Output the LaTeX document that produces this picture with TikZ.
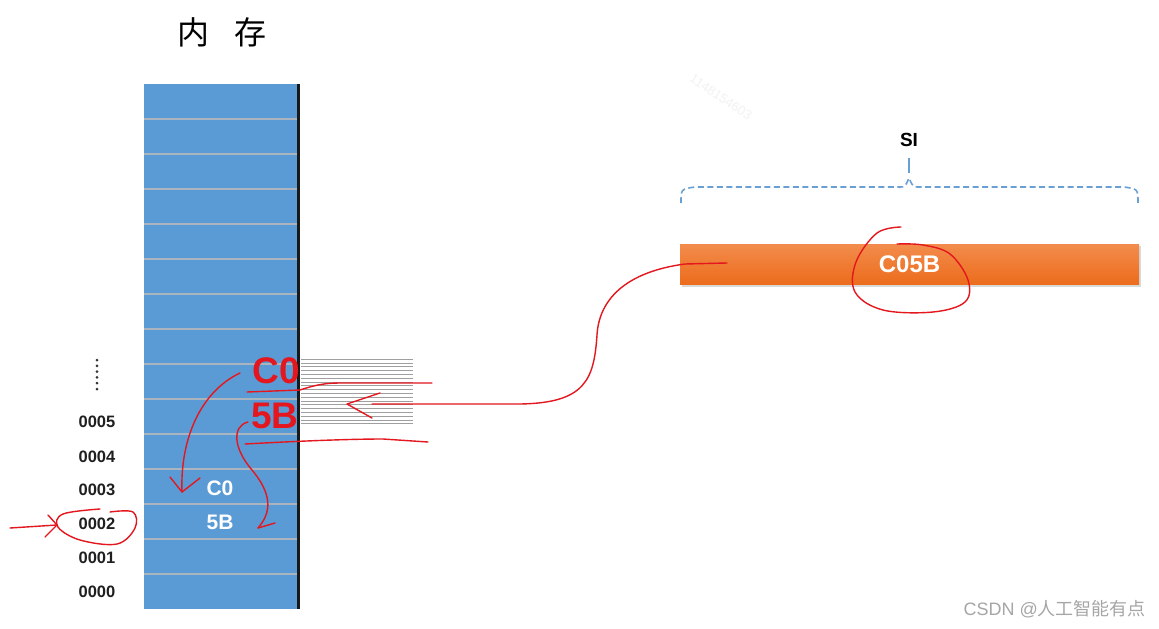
\documentclass[tikz,border=0pt]{standalone}
\usepackage{fontspec}
\setmainfont{Liberation Sans}
\newfontfamily\cjk{Noto Sans CJK SC}
\usetikzlibrary{arrows.meta}
\definecolor{memblue}{HTML}{5B9BD5}
\definecolor{sepgray}{HTML}{A9B4BF}
\definecolor{penred}{HTML}{E3171D}
\definecolor{orangeT}{HTML}{F28C4C}
\definecolor{orangeB}{HTML}{EC6C1C}
\definecolor{braceblue}{HTML}{6A9FD4}
\begin{document}
\begin{tikzpicture}[x=1pt,y=-1pt,
  cell/.style={fill=memblue, minimum width=154pt, minimum height=35pt, inner sep=0pt, outer sep=0pt},
  addr/.style={font=\bfseries\fontsize{16.5}{16.5}\selectfont, text=black!88, inner sep=0pt},
  memtext/.style={font=\bfseries\fontsize{21}{21}\selectfont, text=white, inner sep=0pt},
  redbig/.style={font=\bfseries\fontsize{37}{37}\selectfont, text=penred, inner sep=0pt},
  pen/.style={draw=penred, line width=1.4pt, line cap=round, line join=round},
  hatchline/.style={draw=gray!75, line width=0.6pt},
  bracepath/.style={draw=braceblue, line width=1.6pt, dash pattern=on 6pt off 3.5pt},
]
\useasboundingbox (0,0) rectangle (1159,629);
\fill[white] (0,0) rectangle (1159,629);

% faint watermark
\node[rotate=-34, text=gray!10, font=\fontsize{13}{13}\selectfont] (wm) at (721,97) {1148154603};

% title
\node[font=\cjk\fontsize{32}{32}\selectfont, inner sep=0pt] (title) at (222,32) {内\hspace{26pt}存};

% memory cells
\foreach \k in {0,...,14}
  \node[cell] (cell\k) at (221,{609-35*\k-17.5}) {};
\foreach \k in {1,...,14}
  \draw[sepgray, line width=1.6pt] (cell\k.south west) -- (cell\k.south east);
\draw[black!90, line width=3pt] (cell14.north east) -- (cell0.south east);

% addresses
\node[addr] (a0) at (97,592) {0000};
\node[addr] (a1) at (97,558) {0001};
\node[addr] (a2) at (97,524) {0002};
\node[addr] (a3) at (97,490) {0003};
\node[addr] (a4) at (97,457) {0004};
\node[addr] (a5) at (97,422) {0005};
\coordinate (dots) at (97,374);
\foreach \j in {0,...,5}
  \fill[black!80] (97,{360+5.8*\j}) circle (1.5pt);

% values in memory
\node[memtext] (m3) at (220,488) {C0};
\node[memtext] (m2) at (220,522) {5B};

% hatch lines
\foreach \i in {0,...,17}
  \draw[hatchline] (301,{359+3.8*\i}) -- (413,{359+3.8*\i});

% big red bytes
\node[redbig] (rc0) at (276,371) {C0};
\node[redbig] (r5b) at (275,416) {5B};

% SI register
\node[font=\bfseries\fontsize{19}{19}\selectfont, inner sep=0pt] (silabel) at (909,140) {SI};
\fill[gray!30] (682,246) rectangle (1141,287);
\node[top color=orangeT, bottom color=orangeB, minimum width=459pt, minimum height=40pt, inner sep=0pt,
      font=\bfseries\fontsize{24}{24}\selectfont, text=white] (si) at (909.5,264) {C05B};
\draw[braceblue, line width=1.6pt] (909,158) -- (909,173);
\draw[bracepath] (681,203) .. controls (681,189) .. (695,187) -- (900,187)
   .. controls (905,187) .. (909,178) .. controls (913,187) .. (918,187) -- (1124,187)
   .. controls (1138,189) .. (1138,203);

% red annotations
\coordinate (siStart) at (727,263);
\coordinate (arrTip) at (347,404);
\draw[pen] (siStart) -- (685,264) .. controls (625,272) and (599,300) .. (597,335)
   .. controls (594,380) and (585,403) .. (520,404) -- (372,404);
\draw[pen] (380,393) -- (arrTip) -- (372,418);

% circle around C05B
\draw[pen] plot[smooth, tension=0.6] coordinates {(901,227) (877,233) (856,262) (855,292) (883,310) (933,312) (965,302) (968,280) (950,254) (923,245) (897,244)};

% underlines
\draw[pen] (247,392) -- (300,390) .. controls (315,385) and (325,383) .. (340,383) -- (432,383);
\draw[pen] (245,444) .. controls (300,441) and (350,439) .. (383,439) -- (428,442);

% C0 arrow
\coordinate (c0tip) at (182,492);
\draw[pen] (240,373) .. controls (200,392) and (180,440) .. (c0tip);
\draw[pen] (170,477) -- (c0tip) -- (200,478);

% 5B arrow
\coordinate (b5tip) at (258,528);
\draw[pen] (248,422) .. controls (232,426) and (233,448) .. (252,470)
   .. controls (272,494) and (272,512) .. (b5tip);
\draw[pen] (b5tip) -- (275,523);

% circle around 0002 and pointer
\draw[pen] plot[smooth, tension=0.6] coordinates {(110,512) (133,512) (135,528) (117,544) (80,540) (58,527) (63,514) (100,509)};
\coordinate (ptrTip) at (57,525);
\draw[pen] (10,528) -- (ptrTip);
\draw[pen] (48,515) -- (ptrTip) -- (45,537);

% footer watermark
\node[text=gray!70, font=\fontsize{18}{18}\selectfont, inner sep=0pt, anchor=east] (csdn) at (1146,609) {CSDN @{\cjk 人工智能有点}};
\end{tikzpicture}
\end{document}
